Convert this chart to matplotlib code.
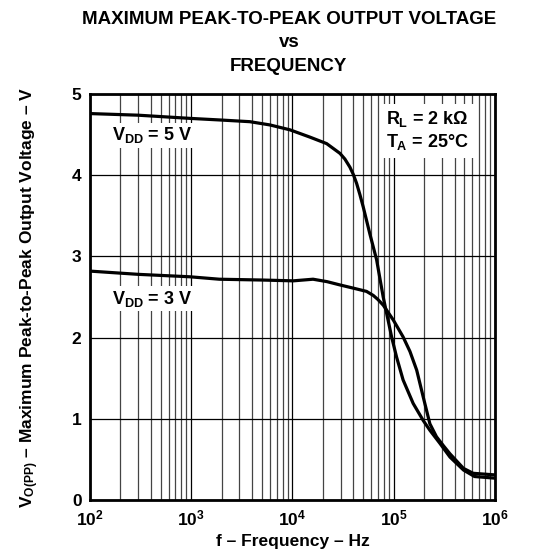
import matplotlib
matplotlib.use("Agg")
import matplotlib.pyplot as plt
from matplotlib.ticker import FixedLocator, LogLocator, NullFormatter

plt.rcParams['font.family'] = ['Liberation Sans', 'DejaVu Sans']
plt.rcParams['font.weight'] = 'bold'
plt.rcParams['mathtext.fontset'] = 'custom'
plt.rcParams['mathtext.rm'] = 'Liberation Sans:bold'
plt.rcParams['mathtext.bf'] = 'Liberation Sans:bold'
plt.rcParams['mathtext.it'] = 'Liberation Sans:bold'

# curve readings (Hz, V)
f_5v = [100, 300, 1000, 2000, 3800, 6000, 9450, 14900, 21800, 29500, 33000,
        37000, 40000, 43100, 46500, 50100, 58200, 67900, 78900, 88000, 95500,
        107000, 124000, 156000, 196000, 228000, 286000, 360000, 490000,
        630000, 1000000]
v_5v = [4.76, 4.74, 4.70, 4.68, 4.66, 4.62, 4.56, 4.47, 4.39, 4.27, 4.20,
        4.10, 4.01, 3.90, 3.76, 3.61, 3.28, 2.96, 2.50, 2.22, 2.01,
        1.76, 1.48, 1.19, 0.98, 0.86, 0.70, 0.53, 0.37,
        0.29, 0.27]

f_3v = [100, 300, 970, 1900, 5000, 10200, 16000, 22000, 29400, 40000, 54000,
        63000, 70000, 79000, 99000, 124000, 145000, 169000, 196000, 228000,
        265000, 310000, 360000, 490000, 610000, 1000000]
v_3v = [2.82, 2.78, 2.75, 2.72, 2.71, 2.70, 2.72, 2.69, 2.65, 2.61, 2.57,
        2.52, 2.47, 2.40, 2.22, 2.01, 1.83, 1.60, 1.27, 0.94,
        0.78, 0.67, 0.57, 0.39, 0.33, 0.31]

y_ticks = [0, 1, 2, 3, 4, 5]
x_ticks = [1e2, 1e3, 1e4, 1e5, 1e6]
x_labels = [r'$10^{2}$', r'$10^{3}$', r'$10^{4}$', r'$10^{5}$', r'$10^{6}$']

fig = plt.figure(figsize=(5.35, 5.6), dpi=100)
ax = fig.add_axes([0.168, 0.107, 0.757, 0.725])

ax.set_xscale('log')
ax.set_xlim(1e2, 1e6)
ax.set_ylim(0, 5)

ax.xaxis.set_major_locator(FixedLocator(x_ticks))
ax.xaxis.set_minor_locator(LogLocator(base=10, subs=range(2, 10)))
ax.xaxis.set_minor_formatter(NullFormatter())
ax.set_xticks(x_ticks)
ax.set_xticklabels(x_labels, fontsize=12.5)
ax.set_yticks(y_ticks)
ax.set_yticklabels([str(t) for t in y_ticks], fontsize=12.5, fontweight='bold')

ax.grid(True, which='major', color='black', linewidth=0.9)
ax.grid(True, which='minor', axis='x', color='#444444', linewidth=0.9)
ax.tick_params(which='both', length=0, pad=6)
for s in ax.spines.values():
    s.set_linewidth(2)

ax.plot(f_5v, v_5v, color='black', linewidth=2.3, zorder=5)
ax.plot(f_3v, v_3v, color='black', linewidth=2.3, zorder=5)

box = dict(facecolor='white', edgecolor='none', pad=2)
ax.text(165, 4.43, r'$V_{DD}$ = 5 V', fontsize=13, fontweight='bold', bbox=box, zorder=4)
ax.text(165, 2.42, r'$V_{DD}$ = 3 V', fontsize=13, fontweight='bold', bbox=box, zorder=4)
ax.text(85000, 4.55, r'$R_{L}$ = 2 k$\Omega$' + '\n' + r'$T_{A}$ = 25°C', fontsize=13,
        fontweight='bold', bbox=dict(facecolor='white', edgecolor='none', pad=4),
        zorder=4, va='center', linespacing=1.2)

ax.set_xlabel('f – Frequency – Hz', fontsize=12.5, fontweight='bold', labelpad=4)
ax.set_ylabel(r'$V_{O(PP)}$ – Maximum Peak-to-Peak Output Voltage – V', fontsize=12.5,
              fontweight='bold', labelpad=22)

fig.text(0.54, 0.981, 'MAXIMUM PEAK-TO-PEAK OUTPUT VOLTAGE\nvs\nFREQUENCY',
         ha='center', va='top', fontsize=13.5, fontweight='bold', linespacing=1.5)

fig.savefig('out.png', dpi=100)
